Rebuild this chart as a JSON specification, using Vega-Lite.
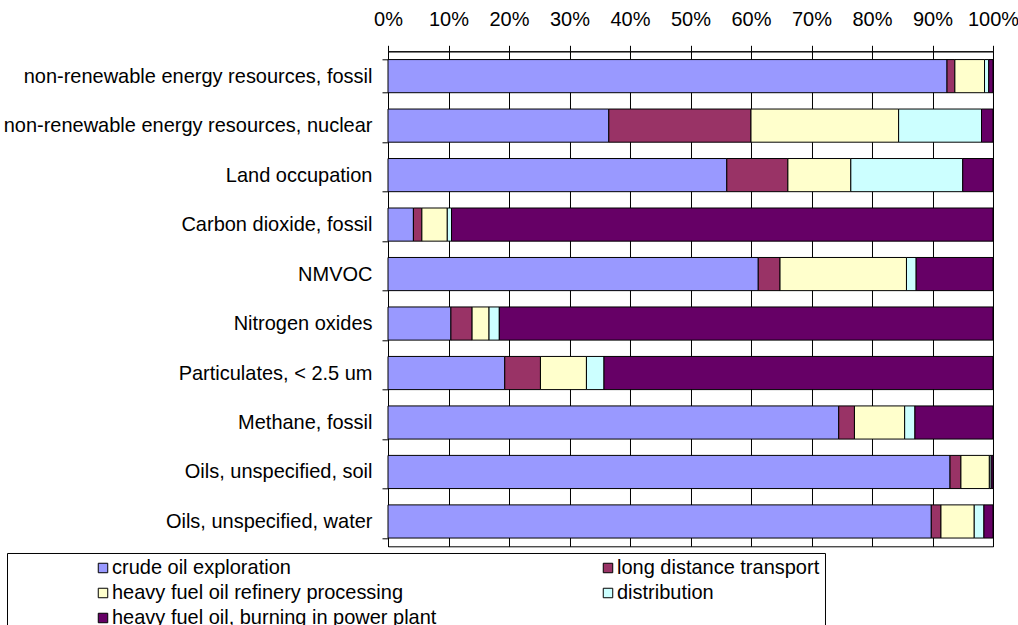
{
  "$schema": "https://vega.github.io/schema/vega-lite/v6.json",
  "autosize": "none",
  "width": 605,
  "height": 495,
  "padding": {"left": 388, "top": 51.3, "right": 25, "bottom": 79},
  "background": "white",
  "config": {
    "font": "Liberation Sans",
    "view": {"stroke": "black", "strokeWidth": 1},
    "axis": {"labelFont": "Liberation Sans", "labelColor": "black", "domainColor": "black", "tickColor": "black", "gridColor": "black", "gridOpacity": 1}
  },
  "data": {"values": [
    {"cat": "non-renewable energy resources, fossil", "stage": "crude oil exploration", "k": 1, "v": 92.4},
    {"cat": "non-renewable energy resources, fossil", "stage": "long distance transport", "k": 2, "v": 1.3},
    {"cat": "non-renewable energy resources, fossil", "stage": "heavy fuel oil refinery processing", "k": 3, "v": 4.9},
    {"cat": "non-renewable energy resources, fossil", "stage": "distribution", "k": 4, "v": 0.7},
    {"cat": "non-renewable energy resources, fossil", "stage": "heavy fuel oil, burning in power plant", "k": 5, "v": 0.7},
    {"cat": "non-renewable energy resources, nuclear", "stage": "crude oil exploration", "k": 1, "v": 36.5},
    {"cat": "non-renewable energy resources, nuclear", "stage": "long distance transport", "k": 2, "v": 23.5},
    {"cat": "non-renewable energy resources, nuclear", "stage": "heavy fuel oil refinery processing", "k": 3, "v": 24.4},
    {"cat": "non-renewable energy resources, nuclear", "stage": "distribution", "k": 4, "v": 13.7},
    {"cat": "non-renewable energy resources, nuclear", "stage": "heavy fuel oil, burning in power plant", "k": 5, "v": 1.9},
    {"cat": "Land occupation", "stage": "crude oil exploration", "k": 1, "v": 56.0},
    {"cat": "Land occupation", "stage": "long distance transport", "k": 2, "v": 10.1},
    {"cat": "Land occupation", "stage": "heavy fuel oil refinery processing", "k": 3, "v": 10.4},
    {"cat": "Land occupation", "stage": "distribution", "k": 4, "v": 18.5},
    {"cat": "Land occupation", "stage": "heavy fuel oil, burning in power plant", "k": 5, "v": 5.0},
    {"cat": "Carbon dioxide, fossil", "stage": "crude oil exploration", "k": 1, "v": 4.2},
    {"cat": "Carbon dioxide, fossil", "stage": "long distance transport", "k": 2, "v": 1.4},
    {"cat": "Carbon dioxide, fossil", "stage": "heavy fuel oil refinery processing", "k": 3, "v": 4.2},
    {"cat": "Carbon dioxide, fossil", "stage": "distribution", "k": 4, "v": 0.7},
    {"cat": "Carbon dioxide, fossil", "stage": "heavy fuel oil, burning in power plant", "k": 5, "v": 89.5},
    {"cat": "NMVOC", "stage": "crude oil exploration", "k": 1, "v": 61.2},
    {"cat": "NMVOC", "stage": "long distance transport", "k": 2, "v": 3.6},
    {"cat": "NMVOC", "stage": "heavy fuel oil refinery processing", "k": 3, "v": 20.9},
    {"cat": "NMVOC", "stage": "distribution", "k": 4, "v": 1.6},
    {"cat": "NMVOC", "stage": "heavy fuel oil, burning in power plant", "k": 5, "v": 12.7},
    {"cat": "Nitrogen oxides", "stage": "crude oil exploration", "k": 1, "v": 10.4},
    {"cat": "Nitrogen oxides", "stage": "long distance transport", "k": 2, "v": 3.5},
    {"cat": "Nitrogen oxides", "stage": "heavy fuel oil refinery processing", "k": 3, "v": 2.8},
    {"cat": "Nitrogen oxides", "stage": "distribution", "k": 4, "v": 1.7},
    {"cat": "Nitrogen oxides", "stage": "heavy fuel oil, burning in power plant", "k": 5, "v": 81.6},
    {"cat": "Particulates, < 2.5 um", "stage": "crude oil exploration", "k": 1, "v": 19.3},
    {"cat": "Particulates, < 2.5 um", "stage": "long distance transport", "k": 2, "v": 5.9},
    {"cat": "Particulates, < 2.5 um", "stage": "heavy fuel oil refinery processing", "k": 3, "v": 7.6},
    {"cat": "Particulates, < 2.5 um", "stage": "distribution", "k": 4, "v": 2.9},
    {"cat": "Particulates, < 2.5 um", "stage": "heavy fuel oil, burning in power plant", "k": 5, "v": 64.3},
    {"cat": "Methane, fossil", "stage": "crude oil exploration", "k": 1, "v": 74.5},
    {"cat": "Methane, fossil", "stage": "long distance transport", "k": 2, "v": 2.6},
    {"cat": "Methane, fossil", "stage": "heavy fuel oil refinery processing", "k": 3, "v": 8.3},
    {"cat": "Methane, fossil", "stage": "distribution", "k": 4, "v": 1.7},
    {"cat": "Methane, fossil", "stage": "heavy fuel oil, burning in power plant", "k": 5, "v": 12.9},
    {"cat": "Oils, unspecified, soil", "stage": "crude oil exploration", "k": 1, "v": 92.9},
    {"cat": "Oils, unspecified, soil", "stage": "long distance transport", "k": 2, "v": 1.8},
    {"cat": "Oils, unspecified, soil", "stage": "heavy fuel oil refinery processing", "k": 3, "v": 4.7},
    {"cat": "Oils, unspecified, soil", "stage": "distribution", "k": 4, "v": 0.3},
    {"cat": "Oils, unspecified, soil", "stage": "heavy fuel oil, burning in power plant", "k": 5, "v": 0.3},
    {"cat": "Oils, unspecified, water", "stage": "crude oil exploration", "k": 1, "v": 89.8},
    {"cat": "Oils, unspecified, water", "stage": "long distance transport", "k": 2, "v": 1.6},
    {"cat": "Oils, unspecified, water", "stage": "heavy fuel oil refinery processing", "k": 3, "v": 5.5},
    {"cat": "Oils, unspecified, water", "stage": "distribution", "k": 4, "v": 1.6},
    {"cat": "Oils, unspecified, water", "stage": "heavy fuel oil, burning in power plant", "k": 5, "v": 1.5}
  ]},
  "mark": {"type": "bar", "stroke": "black", "strokeWidth": 1},
  "encoding": {
    "y": {
      "field": "cat", "type": "nominal", "sort": null,
      "scale": {"paddingInner": 0.33, "paddingOuter": 0.167},
      "axis": {"title": null, "tickBand": "extent", "tickSize": 6, "labelPadding": 10, "labelFontSize": 20, "labelLimit": 400, "grid": false}
    },
    "x": {
      "field": "v", "type": "quantitative", "stack": "normalize",
      "scale": {"domain": [0, 1], "nice": false},
      "axis": {"title": null, "orient": "top", "format": ".0%", "values": [0, 0.1, 0.2, 0.3, 0.4, 0.5, 0.6, 0.7, 0.8, 0.9, 1], "tickSize": 6, "labelPadding": 16, "labelFontSize": 20, "grid": true, "gridWidth": 1, "labelFlush": false}
    },
    "order": {"field": "k", "type": "quantitative"},
    "color": {
      "field": "stage", "type": "nominal",
      "scale": {
        "domain": ["crude oil exploration", "long distance transport", "heavy fuel oil refinery processing", "distribution", "heavy fuel oil, burning in power plant"],
        "range": ["#9999FF", "#993366", "#FFFFCC", "#CCFFFF", "#660066"]
      },
      "legend": {
        "title": null, "orient": "none", "legendX": -381, "legendY": 501.7,
        "columns": 2, "direction": "horizontal",
        "symbolType": "square", "symbolSize": 90, "symbolStrokeColor": "black", "symbolStrokeWidth": 1, "symbolOpacity": 1,
        "symbolOffset": 81,
        "labelFontSize": 20, "labelOffset": -1, "labelLimit": 500, "labelColor": "black",
        "rowPadding": 5, "columnPadding": 80,
        "padding": 5, "strokeColor": "black", "fillColor": "white"
      }
    }
  }
}
